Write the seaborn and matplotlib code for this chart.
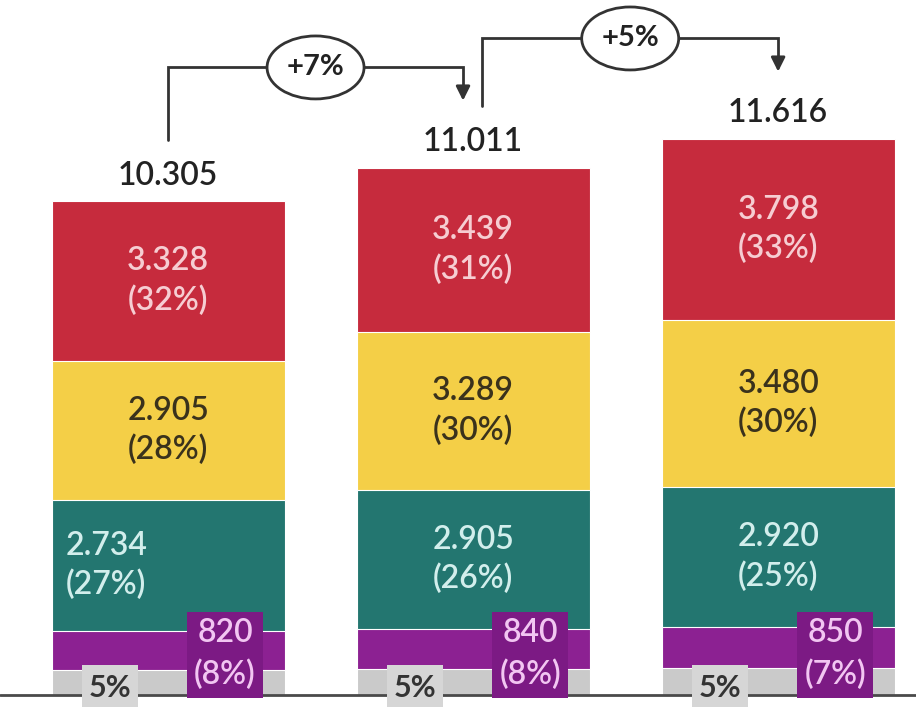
import numpy as np
import pandas as pd
import matplotlib
matplotlib.use('Agg')
import matplotlib.pyplot as plt
from matplotlib.patches import Rectangle, Ellipse
import seaborn as sns

# data (thousands, bottom -> top)
periods = ['P1', 'P2', 'P3']
totals = [10305, 11011, 11616]
red_vals = [3328, 3439, 3798]
yellow_vals = [2905, 3289, 3480]
teal_vals = [2734, 2905, 2920]
purple_vals = [820, 840, 850]
red_pct = [32, 31, 33]
yellow_pct = [28, 30, 30]
teal_pct = [27, 26, 25]
purple_pct = [8, 8, 7]
gray_pct = [5, 5, 5]
growth_labels = ['+7%', '+5%']

gray_vals = [t - r - y - te - p for t, r, y, te, p in
             zip(totals, red_vals, yellow_vals, teal_vals, purple_vals)]

C_RED = '#C62B3D'
C_YEL = '#F4CF47'
C_TEAL = '#237670'
C_PUR = '#8C2192'
C_PUR_BOX = '#7C1A84'
C_GRAY = '#CACACA'
C_GRAY_BOX = '#D6D6D6'

sns.set_theme(style='white')
plt.rcParams['font.family'] = ['Lato', 'DejaVu Sans']
W = 'semibold'

fig = plt.figure(figsize=(9.16, 7.08), dpi=100)
ax = fig.add_axes([0, 0, 1, 1])

layers = [gray_vals, purple_vals, teal_vals, yellow_vals, red_vals]
colors = [C_GRAY, C_PUR, C_TEAL, C_YEL, C_RED]
cum = np.cumsum(np.array(layers), axis=0)
df = pd.DataFrame({'period': periods})
# draw from the top layer down so each lower layer covers the one above
for k in range(len(layers) - 1, -1, -1):
    df['h'] = cum[k]
    sns.barplot(data=df, x='period', y='h', color=colors[k], saturation=1,
                width=0.764, edgecolor='white', linewidth=0.8, ax=ax)

ax.axhline(0, color='#4a4a4a', lw=2, zorder=1)

fs = 23
bar_w = 0.764
for i in range(3):
    b_teal = cum[1][i]
    b_yel = cum[2][i]
    b_red = cum[3][i]
    ax.text(i, b_red + red_vals[i] / 2, f'{red_vals[i]/1000:.3f}\n({red_pct[i]}%)',
            ha='center', va='center', color='#F6CDD2', fontsize=fs, linespacing=1.35,
            fontweight=W)
    ax.text(i, b_yel + yellow_vals[i] / 2, f'{yellow_vals[i]/1000:.3f}\n({yellow_pct[i]}%)',
            ha='center', va='center', color='#3a321c', fontsize=fs, linespacing=1.35,
            fontweight=W)
    if i == 0:
        ax.text(i - bar_w / 2 + 0.045, b_teal + teal_vals[i] / 2,
                f'{teal_vals[i]/1000:.3f}\n({teal_pct[i]}%)',
                ha='left', va='center', color='#D2EEEC', fontsize=fs, linespacing=1.35,
                fontweight=W)
    else:
        ax.text(i, b_teal + teal_vals[i] / 2, f'{teal_vals[i]/1000:.3f}\n({teal_pct[i]}%)',
                ha='center', va='center', color='#D2EEEC', fontsize=fs, linespacing=1.35,
                fontweight=W)

    # purple label box
    ax.add_patch(Rectangle((i + 0.187 - 0.125, -63), 0.25, 1800,
                           facecolor=C_PUR_BOX, edgecolor='none', zorder=4))
    ax.text(i + 0.187, 850, f'{purple_vals[i]}\n({purple_pct[i]}%)', ha='center',
            va='center', color='#F2C6F2', fontsize=fs, linespacing=1.45, zorder=5,
            fontweight=W)

    # gray label box
    ax.add_patch(Rectangle((i - 0.19 - 0.092, -250), 0.184, 876,
                           facecolor=C_GRAY_BOX, edgecolor='none', zorder=4))
    ax.text(i - 0.19, 150, f'{gray_pct[i]}%', ha='center', va='center',
            color='#333333', fontsize=fs - 1, zorder=5, fontweight='bold')

    # totals
    ax.text(i, totals[i] + 540, f'{totals[i]/1000:.3f}', ha='center', va='center',
            color='#222222', fontsize=fs, fontweight=W)

# growth connectors
start_dx = [0.0, 0.03]
end_dx = [-0.033, 0.0]
for i in range(2):
    j = i + 1
    x0 = i + start_dx[i]
    x1 = j + end_dx[i]
    y0 = totals[i] + 1290
    ytop = totals[j] + 2090
    ytip = totals[j] + 1340
    ax.plot([x0, x0, x1, x1], [y0, ytop, ytop, ytip + 300], color='#333333',
            lw=2, solid_joinstyle='miter', zorder=3)
    ax.annotate('', xy=(x1, ytip), xytext=(x1, ytip + 320),
                arrowprops=dict(arrowstyle='-|>,head_width=0.35,head_length=0.7',
                                color='#333333', lw=2), zorder=3)
    xm = (x0 + x1) / 2
    ax.add_patch(Ellipse((xm, ytop), 0.318, 1315, facecolor='white',
                         edgecolor='#333333', lw=2, zorder=4))
    ax.text(xm, ytop, growth_labels[i], ha='center', va='center', color='#222222',
            fontsize=fs - 2, fontweight='bold', zorder=5)

ax.set_xlim(-0.551, 2.452)
ax.set_ylim(-272, 14509)
ax.axis('off')

fig.savefig('out.png', dpi=100)
plt.close()
